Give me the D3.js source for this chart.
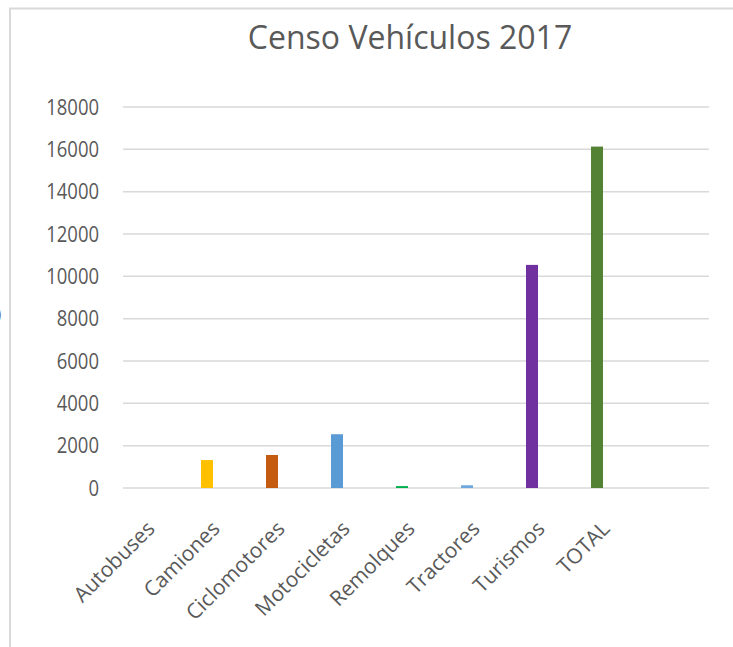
<!DOCTYPE html>
<meta charset="utf-8">
<script src="https://cdn.jsdelivr.net/npm/d3@7"></script>
<style>
  body { margin: 0; background: #fff; }
  text { font-family: "Open Sans", sans-serif; fill: #595959; }
</style>
<div id="chart"></div>
<script>
  // data
  const categories = ["Autobuses", "Camiones", "Ciclomotores", "Motocicletas", "Remolques", "Tractores", "Turismos", "TOTAL"];
  const values = [0, 1320, 1560, 2540, 90, 130, 10540, 16130];
  const colors = ["#4472C4", "#FFC000", "#C55A11", "#5B9BD5", "#00B050", "#6FA8DC", "#7030A0", "#548235"];
  const yTicks = [0, 2000, 4000, 6000, 8000, 10000, 12000, 14000, 16000, 18000];

  const W = 733, H = 647;
  const svg = d3.select("#chart").append("svg")
    .attr("width", W).attr("height", H);

  // outer frame (only top and left edges are visible)
  svg.append("line").attr("x1", 9).attr("x2", W).attr("y1", 8.5).attr("y2", 8.5)
    .attr("stroke", "#d9d9d9").attr("stroke-width", 2);
  svg.append("line").attr("x1", 10).attr("x2", 10).attr("y1", 8).attr("y2", H)
    .attr("stroke", "#d9d9d9").attr("stroke-width", 2);

  // cut-off axis title fragment at far left
  svg.append("text").attr("x", -4).attr("y", 320)
    .style("font-size", "18px").text(")");

  const plotLeft = 123, plotRight = 709;

  const x = d3.scaleBand().domain(categories).range([109.5, 629.5]);
  const y = d3.scaleLinear().domain([0, 18000]).range([488, 107]);

  // gridlines
  svg.append("g").selectAll("line").data(yTicks).join("line")
    .attr("x1", plotLeft).attr("x2", plotRight)
    .attr("y1", d => y(d)).attr("y2", d => y(d))
    .attr("stroke", "#d9d9d9").attr("stroke-width", 1.5);

  // y tick labels (slightly condensed, like the original font)
  svg.append("g").selectAll("text").data(yTicks).join("text")
    .attr("transform", d => `translate(99,${y(d)}) scale(0.88,1)`)
    .attr("dy", "0.36em")
    .attr("text-anchor", "end")
    .style("font-size", "21px")
    .text(d => d);

  // bars
  const barW = 12;
  svg.append("g").selectAll("rect").data(categories).join("rect")
    .attr("x", d => x(d) + x.bandwidth() / 2 - barW / 2)
    .attr("width", barW)
    .attr("y", (d, i) => y(values[i]))
    .attr("height", (d, i) => y(0) - y(values[i]))
    .attr("fill", (d, i) => colors[i]);

  // category labels, rotated
  svg.append("g").selectAll("text").data(categories).join("text")
    .attr("text-anchor", "end")
    .attr("transform", d => `translate(${x(d) + x.bandwidth() / 2 + 14},${530}) rotate(-45)`)
    .style("font-size", "21px")
    .text(d => d);

  // title
  svg.append("text")
    .attr("x", 410).attr("y", 49)
    .attr("text-anchor", "middle")
    .style("font-size", "32px")
    .text("Censo Vehículos 2017");
</script>
